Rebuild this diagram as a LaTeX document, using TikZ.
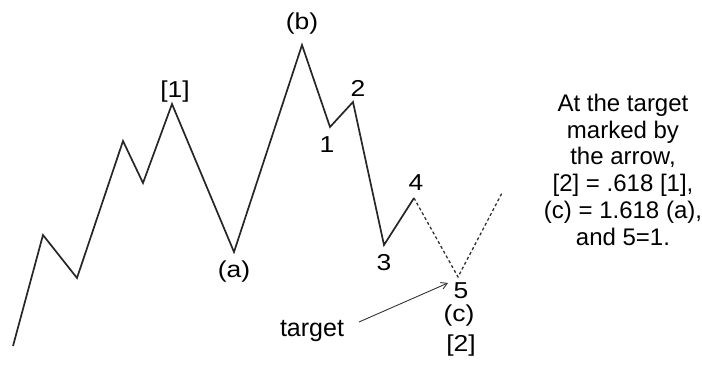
\documentclass[tikz,border=0pt]{standalone}
\usepackage{fontspec}
\setmainfont{Liberation Sans}
\newfontfamily\lblfont{Liberation Sans}[FakeStretch=1.15]
\usetikzlibrary{arrows.meta,positioning}

\begin{document}
\begin{tikzpicture}[
            x=1pt, y=-1pt,
            wave/.style={line width=1.7pt, color=black!85, line join=miter},
            proj/.style={line width=1.3pt, color=black!80, dash pattern=on 3pt off 2.5pt},
            ptr/.style={line width=0.9pt, color=black!80, -{Straight Barb[length=6pt,width=7pt]}},
            lbl/.style={font=\lblfont\fontsize{23}{23}\selectfont, inner sep=0pt},
            note/.style={font=\fontsize{24}{26.7}\selectfont, inner sep=0pt, align=center}
        ]
            \useasboundingbox (0,0) rectangle (702,374);

            % turning points of the wave
            \coordinate (w0) at (13,346);
            \coordinate (w1) at (43,235);
            \coordinate (w2) at (77,278);
            \coordinate (w3) at (123,141);
            \coordinate (w4) at (143,183);
            \coordinate (top1) at (172,104);
            \coordinate (a) at (234,252);
            \coordinate (b) at (302,45);
            \coordinate (s1) at (330,127);
            \coordinate (s2) at (353,102);
            \coordinate (s3) at (384,245);
            \coordinate (s4) at (414,198);
            \coordinate (s5) at (458,277);
            \coordinate (up) at (502,193);

            \draw[wave] (w0) -- (w1) -- (w2) -- (w3) -- (w4) -- (top1) -- (a) -- (b)
                -- (s1) -- (s2) -- (s3) -- (s4);
            \draw[proj] (s4) -- (s5) -- (up);

            % labels
            \node[lbl, above=11pt of b] (lb) {(b)};
            \node[lbl, above=2pt of top1, xshift=3pt] (l1) {[1]};
            \node[lbl, below=9pt of a] (la) {(a)};
            \node[lbl, below=9pt of s1, xshift=-3pt] (n1) {1};
            \node[lbl, above=5pt of s2, xshift=5pt] (n2) {2};
            \node[lbl, below=9pt of s3] (n3) {3};
            \node[lbl, above=7pt of s4, xshift=2pt] (n4) {4};
            \node[lbl, below=5pt of s5, xshift=3pt] (n5) {5};
            \node[lbl, below=6pt of n5, xshift=-2pt] (lc) {(c)};
            \node[lbl, below=8pt of lc, xshift=2pt] (l2) {[2]};

            \node[font=\fontsize{25}{25}\selectfont, inner sep=0pt, anchor=base] (tgt) at (312,336) {target};
            \coordinate (tail) at (359,322);
            \coordinate (tip) at (448,283);
            \draw[ptr] (tail) -- (tip);

            \node[note, anchor=north] (txt) at (623,94)
                {At the target\\marked by\\the arrow,\\{[2]} = .618 [1],\\(c) = 1.618 (a),\\and 5=1.};
        \end{tikzpicture}
\end{document}
